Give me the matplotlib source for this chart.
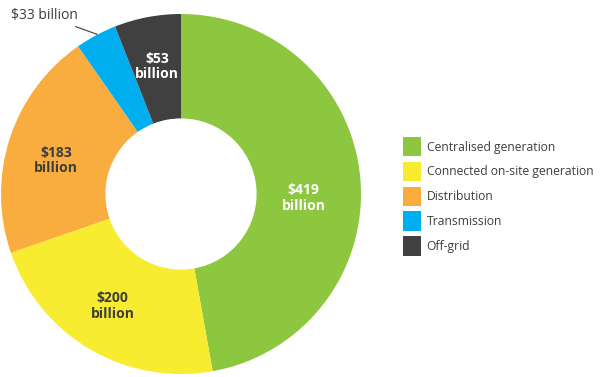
import matplotlib.pyplot as plt
import numpy as np

plt.rcParams['font.family'] = ['Open Sans', 'DejaVu Sans']

categories = ['Centralised generation', 'Connected on-site generation',
              'Distribution', 'Transmission', 'Off-grid']
values = [419, 200, 183, 33, 53]
labels = ['$419\nbillion', '$200\nbillion', '$183\nbillion', '$33 billion', '$53\nbillion']
colors = ['#8dc63f', '#f7ec2f', '#f9ad3f', '#00aeef', '#404041']
label_colors = ['white', '#3d3d3d', '#3d3d3d', '#3d3d3d', 'white']
# label placement: fraction of radius, angle shift from wedge middle (deg)
label_r = [0.68, 0.73, 0.72, None, 0.72]
label_shift = [-7, -1, 3, 0, 0]

fig = plt.figure(figsize=(6, 3.77), dpi=100)
ax = fig.add_axes([0, 0, 1, 1])

cx, cy, R = 181, 183, 180
wedges, _ = ax.pie(values, colors=colors, startangle=90, counterclock=False,
                   center=(cx, cy), radius=R, frame=True,
                   wedgeprops=dict(width=R * 0.58, linewidth=0))
ax.set_xlim(0, 600)
ax.set_ylim(0, 377)
ax.set_aspect('equal')
ax.axis('off')

total = sum(values)
cum = np.cumsum([0] + values)
for i, w in enumerate(wedges):
    mid = 90 - (cum[i] + values[i] / 2) / total * 360 + label_shift[i]
    a = np.deg2rad(mid)
    if label_r[i] is None:
        x0, y0 = cx + R * np.cos(a), cy + R * np.sin(a)
        ax.annotate(labels[i], xy=(x0 + 1, y0 + 1), xytext=(x0 - 18, y0 + 20),
                    ha='right', va='center', fontsize=10, color='#3d3d3d',
                    arrowprops=dict(arrowstyle='-', color='#3d3d3d', lw=0.8,
                                    shrinkA=2, shrinkB=0))
    else:
        r = label_r[i] * R
        ax.text(cx + r * np.cos(a), cy + r * np.sin(a), labels[i],
                ha='center', va='center', fontsize=10, fontweight='bold',
                color=label_colors[i], linespacing=1.15)

ax.legend(wedges, categories, loc='upper left', bbox_to_anchor=(403 / 600, 1 - 137 / 377),
          bbox_transform=fig.transFigure, frameon=False, fontsize=8.7,
          handlelength=1.5, handleheight=2.1, labelspacing=0.44,
          handletextpad=0.45, borderaxespad=0, borderpad=0, labelcolor='#3d3d3d')

fig.savefig('out.png', dpi=100)
